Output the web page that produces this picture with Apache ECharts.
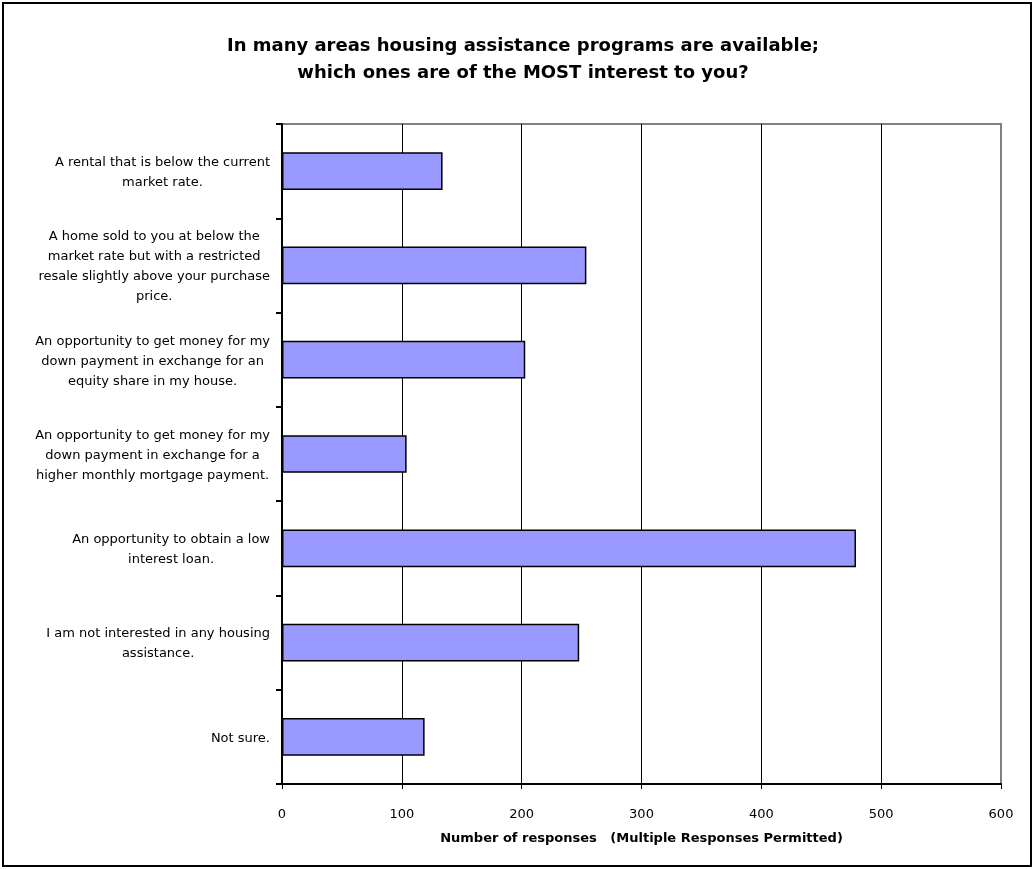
<!DOCTYPE html>
<html>
<head>
<meta charset="utf-8">
<script src="https://cdn.jsdelivr.net/npm/echarts@6/dist/echarts.min.js"></script>
<style>
    html, body { margin: 0; padding: 0; background: #fff; }
    #chart { width: 1034px; height: 869px; }
</style>
</head>
<body>
<div id="chart"></div>
<script>
// categories, top to bottom (lines break as in the original)
const categories = [
    ['A rental that is below the current', 'market rate.'],
    ['A home sold to you at below the', 'market rate but with a restricted', 'resale slightly above your purchase', 'price.'],
    ['An opportunity to get money for my', 'down payment in exchange for an', 'equity share in my house.'],
    ['An opportunity to get money for my', 'down payment in exchange for a', 'higher monthly mortgage payment.'],
    ['An opportunity to obtain a low', 'interest loan.'],
    ['I am not interested in any housing', 'assistance.'],
    ['Not sure.']
];
const responses = [134, 254, 203, 104, 479, 248, 119];
const xTicks = [0, 100, 200, 300, 400, 500, 600];

const chart = echarts.init(document.getElementById('chart'));

const font = 'DejaVu Sans, Arial, sans-serif';

const option = {
    backgroundColor: '#fff',
    animation: false,
    title: {
        text: 'In many areas housing assistance programs are available;\nwhich ones are of the MOST interest to you?',
        left: 518,
        textAlign: 'center',
        top: 28,
        textStyle: {
            fontFamily: font,
            fontSize: 18,
            fontWeight: 'bold',
            color: '#000',
            lineHeight: 27
        }
    },
    graphic: [
        {
            type: 'rect',
            shape: { x: 3, y: 3, width: 1028, height: 863 },
            style: { fill: 'none', stroke: '#000', lineWidth: 2 },
            z: 100
        }
    ],
    grid: {
        left: 282,
        right: 33,
        top: 124,
        bottom: 85,
        show: true,
        borderColor: '#808080',
        borderWidth: 2
    },
    xAxis: {
        type: 'value',
        min: xTicks[0],
        max: xTicks[xTicks.length - 1],
        interval: 100,
        name: 'Number of responses   (Multiple Responses Permitted)',
        nameLocation: 'middle',
        nameGap: 48,
        nameTextStyle: {
            fontFamily: font,
            fontSize: 13,
            fontWeight: 'bold',
            color: '#000'
        },
        axisLine: { show: true, lineStyle: { color: '#000', width: 2 } },
        axisTick: { show: true, length: 5, lineStyle: { color: '#000', width: 1 } },
        axisLabel: {
            margin: 24,
            fontFamily: font,
            fontSize: 13,
            color: '#000'
        },
        splitLine: { show: true, showMaxLine: false, lineStyle: { color: '#000', width: 1 } }
    },
    yAxis: {
        type: 'category',
        inverse: true,
        data: categories.map(function (lines) { return lines.join('\n'); }),
        axisLine: { show: true, lineStyle: { color: '#000', width: 2 } },
        axisTick: { show: true, length: 6, lineStyle: { color: '#000', width: 2 } },
        splitLine: { show: false },
        axisLabel: {
            margin: 12,
            align: 'right',
            formatter: function (value) {
                return value.split('\n').map(function (l) { return '{c|' + l + '}'; }).join('\n');
            },
            rich: {
                c: {
                    align: 'center',
                    fontFamily: font,
                    fontSize: 13,
                    lineHeight: 20,
                    color: '#000',
                    padding: [3, 0, 0, 0]
                }
            }
        }
    },
    series: [
        {
            type: 'bar',
            data: responses,
            barWidth: '40%',
            itemStyle: {
                color: '#9999ff',
                borderColor: '#000',
                borderWidth: 1.5
            }
        }
    ]
};

chart.setOption(option);
</script>
</body>
</html>
